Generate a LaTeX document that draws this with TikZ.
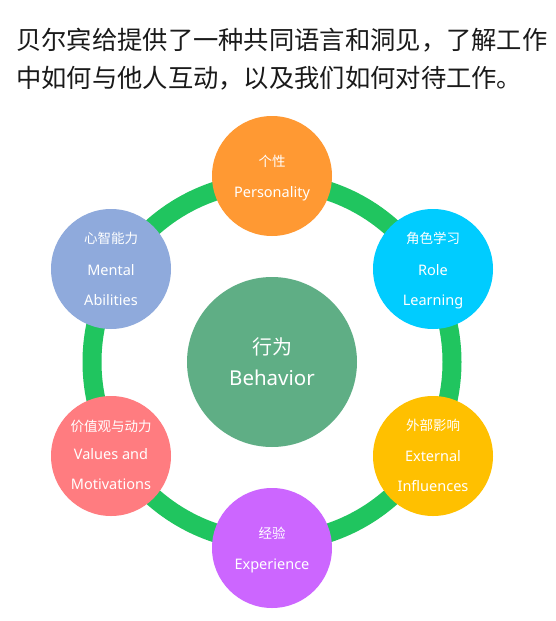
\documentclass[tikz,border=0pt]{standalone}
\usepackage{fontspec}
\setmainfont{Noto Sans}
\newfontfamily\cjk{Noto Sans CJK SC}
\definecolor{ringc}{HTML}{20C55F}
\definecolor{cOrange}{HTML}{FF9933}
\definecolor{cCyan}{HTML}{00CCFF}
\definecolor{cBlue}{HTML}{8FAADC}
\definecolor{cGreen}{HTML}{5FAE85}
\definecolor{cYellow}{HTML}{FFC000}
\definecolor{cPink}{HTML}{FF7C80}
\definecolor{cPurple}{HTML}{CC66FF}
\definecolor{titlec}{HTML}{1A1A1A}
\begin{document}
\begin{tikzpicture}[x=1pt,y=-1pt,
  bubble/.style={circle,inner sep=0pt,minimum size=120pt,draw=none},
  zh/.style={anchor=base,inner sep=0pt,text=white,font=\cjk\fontsize{13.5}{16}\selectfont},
  en/.style={anchor=base,inner sep=0pt,text=white,font=\fontsize{14.5}{17}\selectfont},
  ttl/.style={anchor=base west,inner sep=0pt,text=titlec,font=\cjk\fontsize{25.3}{30}\selectfont}]
\useasboundingbox (0,0) rectangle (555,621);
\fill[white] (0,0) rectangle (555,621);
% title
\node[ttl] (t1) at (16,49.5) {贝尔宾给提供了一种共同语言和洞见，了解工作};
\node[ttl] (t2) at (16,87) {中如何与他人互动，以及我们如何对待工作。};
% ring
\coordinate (rc) at (272,362);
\draw[ringc,line width=19pt] (rc) circle[radius=180];
% bubbles
\node[bubble,fill=cOrange] (pers) at (272,176) {};
\node[bubble,fill=cCyan] (role) at (433,269) {};
\node[bubble,fill=cBlue] (ment) at (111,269) {};
\node[bubble,fill=cYellow] (ext) at (433,456) {};
\node[bubble,fill=cPink] (val) at (111,456) {};
\node[bubble,fill=cPurple] (exp) at (272,548) {};
\node[circle,inner sep=0pt,minimum size=170pt,fill=cGreen] (beh) at (rc) {};
% labels
\node[zh] (persz) at (272,166.7) {个性};
\node[en] (perse) at (272,197) {Personality};
\node[zh] (rolez) at (433,243) {角色学习};
\node[en] (rolee1) at (433,275.5) {Role};
\node[en] (rolee2) at (433,305.5) {Learning};
\node[zh] (mentz) at (111,243) {心智能力};
\node[en] (mente1) at (111,275.5) {Mental};
\node[en] (mente2) at (111,305.5) {Abilities};
\node[zh] (extz) at (433,430) {外部影响};
\node[en] (exte1) at (433,461.5) {External};
\node[en] (exte2) at (433,491.5) {Influences};
\node[zh] (valz) at (111,431) {价值观与动力};
\node[en] (vale1) at (111,459.5) {Values and};
\node[en] (vale2) at (111,489.5) {Motivations};
\node[zh] (expz) at (272,538) {经验};
\node[en] (expe) at (272,569.5) {Experience};
\node[anchor=base,inner sep=0pt,text=white,font=\cjk\fontsize{20}{24}\selectfont] (behz) at (272,354) {行为};
\node[anchor=base,inner sep=0pt,text=white,font=\fontsize{20.5}{24}\selectfont] (behe) at (272,385) {Behavior};
\end{tikzpicture}
\end{document}
